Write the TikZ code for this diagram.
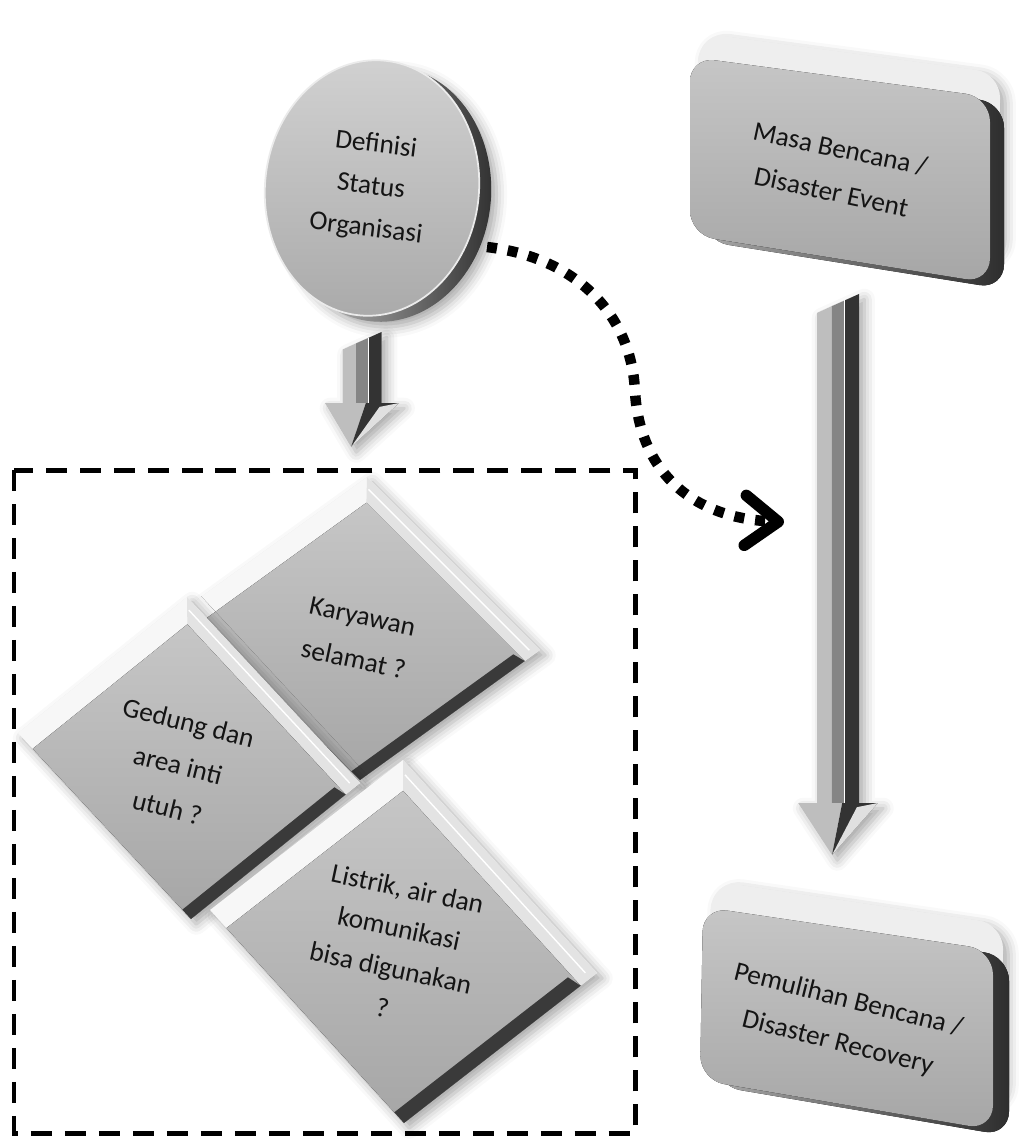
\documentclass[tikz,border=0pt]{standalone}
\usepackage{fontspec}
\setmainfont{Carlito}
\usetikzlibrary{calc,shapes.geometric,shadows.blur,arrows.meta}

\definecolor{faceTop}{HTML}{C6C6C6}
\definecolor{faceBot}{HTML}{A6A6A6}
\definecolor{rimDark}{HTML}{2E2E2E}
\definecolor{rimLight}{HTML}{A8A8A8}
\definecolor{bevelA}{HTML}{F7F7F7}
\definecolor{bevelB}{HTML}{E3E3E3}
\definecolor{edgeDark}{HTML}{3A3A3A}
\definecolor{inkText}{HTML}{141414}
\definecolor{armLight}{HTML}{BEBEBE}
\definecolor{armMid}{HTML}{858585}
\definecolor{armDark}{HTML}{333333}
\definecolor{slabGrey}{HTML}{EEEEEE}

% tilted square block: #1 top vertex, #2 vector to right vertex, #3 vector to left vertex
\newcommand\tiltblock[3]{%
  \begin{scope}[shift={#1}, x={#2}, y={#3}]
    \fill[bevelA, softshadow] (0,0) -- (1,0) -- (1,1) -- (0,1) -- cycle;
    \fill[bevelB] (0,0) -- (1,0) -- (1,0.085) -- (0.085,0.085) -- cycle;
    \draw[white, line width=0.8pt] (0.045,0.035) -- (0.975,0.035);
    \fill[top color=faceTop, bottom color=faceBot] (0.085,0.085) -- (1,0.085) -- (1,1) -- (0.085,1) -- cycle;
    \fill[edgeDark] (0.95,0.1) -- (1,0.085) -- (1,1) -- (0.95,1) -- cycle;
  \end{scope}}

% 3D block arrow pointing down: #1 start, #2 tip, #3 shaft half width, #4 head length
\newcommand\blockarrow[4]{%
  \fill[white, softshadow] ($(#1)+(-#3,0.9*#3)$) -- ($(#1)+(#3,0)$) -- ($(#1|-#2)+(#3,-#4)$)
     -- ($(#1|-#2)+(1.9*#3,-#4)$) -- (#2) -- ($(#1|-#2)+(-1.9*#3,-#4)$) -- ($(#1|-#2)+(-#3,-#4)$) -- cycle;
  \fill[armLight] ($(#1)+(-#3,0.9*#3)$) -- ($(#1)+(-0.3*#3,0.58*#3)$) -- ($(#1|-#2)+(-0.3*#3,-#4)$) -- ($(#1|-#2)+(-#3,-#4)$) -- cycle;
  \fill[armMid] ($(#1)+(-0.3*#3,0.58*#3)$) -- ($(#1)+(0.33*#3,0.3*#3)$) -- ($(#1|-#2)+(0.33*#3,-#4)$) -- ($(#1|-#2)+(-0.3*#3,-#4)$) -- cycle;
  \fill[armDark] ($(#1)+(0.33*#3,0.3*#3)$) -- ($(#1)+(#3,0)$) -- ($(#1|-#2)+(#3,-#4)$) -- ($(#1|-#2)+(0.33*#3,-#4)$) -- cycle;
  \draw[white, line width=0.6pt] ($(#1)+(0.33*#3,0.3*#3)$) -- ($(#1|-#2)+(0.33*#3,-#4)$);
  \fill[armLight] ($(#1|-#2)+(-1.9*#3,-#4)$) -- ($(#1|-#2)+(0.2*#3,-#4)$) -- (#2) -- cycle;
  \fill[armDark] ($(#1|-#2)+(0.2*#3,-#4)$) -- ($(#1|-#2)+(1.9*#3,-#4)$) -- (#2) -- cycle;
  \fill[white!88!black] ($(#1|-#2)+(1.9*#3,-#4)$) -- ($(#1|-#2)+(0.9*#3,-#4+0.2*#3)$) -- (#2) -- cycle;}

\begin{document}
\begin{tikzpicture}[x=0.02cm, y=-0.02cm,
  softshadow/.style={blur shadow={shadow xshift=3pt, shadow yshift=-3pt, shadow blur radius=6pt, shadow opacity=35}},
  txtlabel/.style={font=\fontsize{15.5}{25}\selectfont, text=inkText, align=center, inner sep=0pt},
  dashframe/.style={draw=black, line width=0.1cm, dash pattern=on 0.42cm off 0.26cm},
  dotlink/.style={draw=black, line width=0.21cm, dash pattern=on 0.2cm off 0.22cm,
     -{Straight Barb[length=0.66cm, width=1.0cm, line width=0.23cm, round]}}]
\useasboundingbox (0,0) rectangle (1023,1140);

% dashed frame around the three checks
\path[dashframe] (14,470) rectangle (635,1133);

% circular disk: rim then face
\node[ellipse, minimum width=4.28cm, minimum height=5.12cm, rotate=-6,
      left color=rimLight!50!white, right color=rimDark, softshadow] (circRim) at (384,194) {};
\node[ellipse, minimum width=4.28cm, minimum height=5.12cm, rotate=-6, inner sep=0pt,
      top color=faceTop!80!white, bottom color=faceBot!95!white, draw=white!92!black, line width=1pt] (circ) at (372,188) {};
\node[txtlabel, rotate=-7, font=\fontsize{15.5}{24}\selectfont] (circText) at (371,187) {Definisi\\Status\\Organisasi};

% upper right block
\def\masaFace{(690,57) -- (990,97) -- (990,283) -- (690,235) -- cycle}
\begin{scope}[shift={(10,-24)}]
  \fill[slabGrey, softshadow, rounded corners=14] \masaFace;
\end{scope}
\begin{scope}[shift={(14,6)}]
  \fill[left color=rimLight, right color=rimDark, rounded corners=14] \masaFace;
\end{scope}
\fill[top color=faceTop, bottom color=faceBot, rounded corners=14] \masaFace;
\node[txtlabel, rotate=-12] (masa) at (836,170) {Masa Bencana /\\Disaster Event};

% lower right block
\def\pemulFace{(703,907) -- (993,950) -- (993,1130) -- (700,1080) -- cycle}
\begin{scope}[shift={(10,-26)}]
  \fill[slabGrey, softshadow, rounded corners=14] \pemulFace;
\end{scope}
\begin{scope}[shift={(16,6)}]
  \fill[left color=rimLight, right color=rimDark, rounded corners=14] \pemulFace;
\end{scope}
\fill[top color=faceTop, bottom color=faceBot, rounded corners=14] \pemulFace;
\node[txtlabel, rotate=-14] (pemul) at (843,1022) {Pemulihan Bencana /\\Disaster Recovery};

% connector end points
\coordinate (masaOut) at (838,294);
\coordinate (pemulIn) at (832,855);
\coordinate (circOut) at (362,332);
\coordinate (checksIn) at (351,447);
\coordinate (dotStart) at (487,247);
\coordinate (dotEnd) at (784,522);

% block arrows
\blockarrow{masaOut}{pemulIn}{21}{52}
\blockarrow{circOut}{checksIn}{19.5}{44}

% dotted curved link
\draw[dotlink] (dotStart) .. controls (580,258) and (632,318) .. (635,392)
   .. controls (640,470) and (690,518) .. (dotEnd);

% the three tilted checks
\tiltblock{(367,477)}{(3.46cm,-3.46cm)}{(-3.60cm,-2.60cm)}
\node[txtlabel, rotate=-12] (kary) at (358,638) {Karyawan\\selamat ?};
\tiltblock{(187,597)}{(3.46cm,-3.72cm)}{(-3.38cm,-2.72cm)}
\node[txtlabel, rotate=-14] (gedung) at (178,765) {Gedung dan\\area inti\\utuh ?};
\tiltblock{(403,760)}{(3.88cm,-4.26cm)}{(-3.86cm,-3.00cm)}
\node[txtlabel, rotate=-12, font=\fontsize{15.5}{23}\selectfont] (listrik) at (395,948) {Listrik, air dan\\komunikasi\\bisa digunakan\\?};
\end{tikzpicture}
\end{document}
